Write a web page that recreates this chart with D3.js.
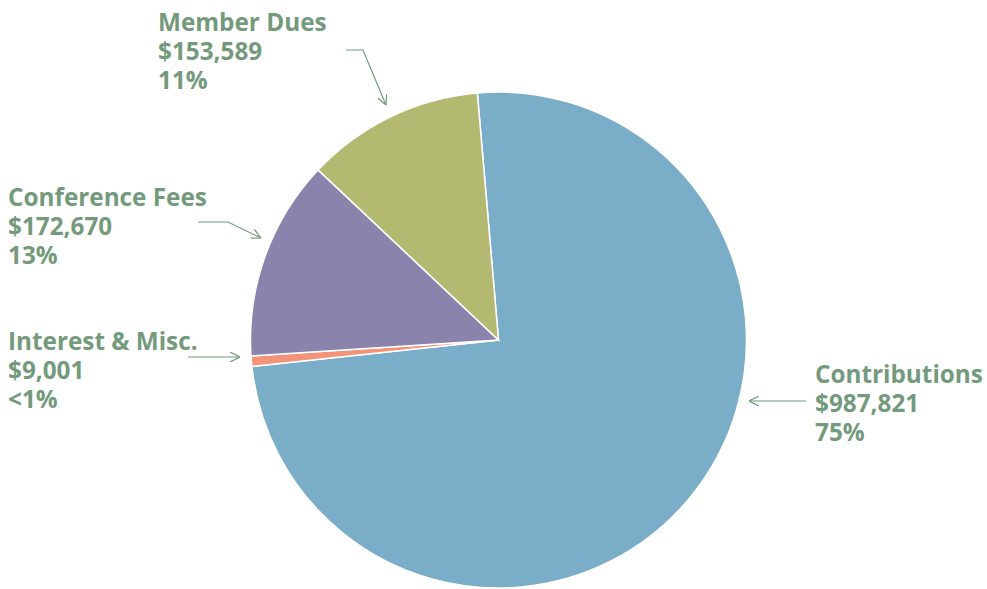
<!DOCTYPE html>
<html>
<head>
<meta charset="utf-8">
<script src="https://cdn.jsdelivr.net/npm/d3@7"></script>
<style>
  body { margin: 0; background: #fff; }
  text { font-family: "Open Sans", "Noto Sans", sans-serif; font-weight: bold; }
</style>
</head>
<body>
<div id="chart-area"></div>
<script>
// revenue sources, clockwise from the top
var categories = ["Contributions", "Interest & Misc.", "Conference Fees", "Member Dues"];
var amounts = [987821, 9001, 172670, 153589];
var amountLabels = ["$987,821", "$9,001", "$172,670", "$153,589"];
var percentLabels = ["75%", "<1%", "13%", "11%"];
var colors = ["#7aadc8", "#f3937a", "#8a83ab", "#b3b970"];

var textColor = "#739a7c";

function drawPie() {
    var svg = d3.select("#chart-area").append("svg")
        .attr("width", 987)
        .attr("height", 589);

    var cx = 498.5, cy = 340, r = 248;
    var start = -4.9 * Math.PI / 180;

    var pie = d3.pie().sort(null)
        .startAngle(start)
        .endAngle(start + 2 * Math.PI);
    var arcs = pie(amounts);

    var arc = d3.arc().innerRadius(0).outerRadius(r);

    var g = svg.append("g").attr("transform", "translate(" + cx + "," + cy + ")");
    g.selectAll("path")
        .data(arcs)
        .enter().append("path")
        .attr("d", arc)
        .attr("fill", (d, i) => colors[i])
        .attr("stroke", "#fff")
        .attr("stroke-width", 1.5);

    // label blocks and their arrows
    var labels = [
        { x: 815, y: 383, arrow: [[806, 401], [749, 401]] },
        { x: 8, y: 350, arrow: [[188, 357], [240, 357]] },
        { x: 8, y: 206, arrow: [[198, 222], [228, 222], [261, 238]] },
        { x: 158, y: 31, arrow: [[346, 50], [363, 50], [386, 105]] }
    ];

    var marker = svg.append("defs").append("marker")
        .attr("id", "head")
        .attr("viewBox", "0 0 10 10")
        .attr("refX", 10).attr("refY", 5)
        .attr("markerWidth", 10).attr("markerHeight", 10)
        .attr("markerUnits", "userSpaceOnUse")
        .attr("orient", "auto");
    marker.append("path")
        .attr("d", "M0,0 L10,5 L0,10")
        .attr("fill", "none")
        .attr("stroke", textColor)
        .attr("stroke-width", 1.2);

    var line = d3.line();

    labels.forEach((lab, i) => {
        var t = svg.append("text")
            .attr("x", lab.x)
            .attr("y", lab.y)
            .attr("fill", textColor)
            .attr("font-size", 24.3);
        [categories[i], amountLabels[i], percentLabels[i]].forEach((s, j) => {
            t.append("tspan")
                .attr("x", lab.x)
                .attr("dy", j == 0 ? 0 : 29)
                .text(s);
        });
        svg.append("path")
            .attr("d", line(lab.arrow))
            .attr("fill", "none")
            .attr("stroke", textColor)
            .attr("stroke-width", 1.2)
            .attr("marker-end", "url(#head)");
    });
}

drawPie();
</script>
</body>
</html>
